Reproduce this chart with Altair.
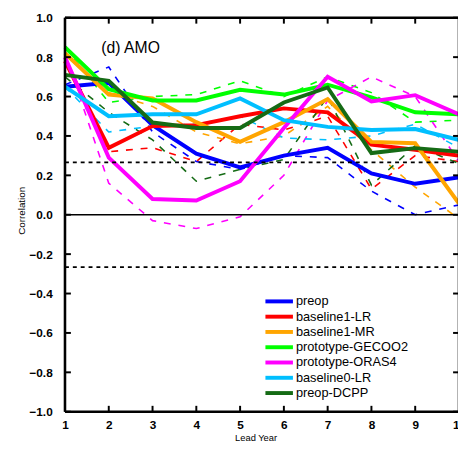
import altair as alt
import pandas as pd

years = [1, 2, 3, 4, 5, 6, 7, 8, 9, 10]

series_names = ["preop", "baseline1-LR", "baseline1-MR", "prototype-GECOO2",
                "prototype-ORAS4", "baseline0-LR", "preop-DCPP"]
series_colors = ["#0000FF", "#FF0000", "#FFA500", "#00FF00",
                 "#FF00FF", "#00BFFF", "#156B15"]

# solid (thick) lines
preop = [0.65, 0.67, 0.455, 0.31, 0.24, 0.30, 0.34, 0.21, 0.157, 0.19]
baseline1_lr = [0.78, 0.34, 0.45, 0.455, 0.50, 0.54, 0.52, 0.356, 0.33, 0.30]
baseline1_mr = [0.82, 0.61, 0.59, 0.47, 0.37, 0.47, 0.587, 0.37, 0.363, 0.057]
gecoo2 = [0.85, 0.637, 0.58, 0.58, 0.634, 0.61, 0.66, 0.596, 0.52, 0.51]
oras4 = [0.80, 0.29, 0.08, 0.072, 0.17, 0.44, 0.70, 0.575, 0.607, 0.51]
baseline0_lr = [0.65, 0.50, 0.51, 0.51, 0.59, 0.48, 0.446, 0.43, 0.435, 0.38]
preop_dcpp = [0.71, 0.68, 0.468, 0.44, 0.44, 0.57, 0.646, 0.313, 0.338, 0.32]

# dashed (thin) lines
preop_d = [0.66, 0.75, 0.42, 0.27, 0.23, 0.30, 0.29, 0.12, 0.0, 0.05]
baseline1_lr_d = [0.78, 0.32, 0.34, 0.27, 0.46, 0.43, 0.50, 0.13, 0.30, 0.27]
baseline1_mr_d = [0.82, 0.62, 0.55, 0.42, 0.36, 0.40, 0.55, 0.33, 0.14, -0.02]
gecoo2_d = [0.85, 0.57, 0.60, 0.61, 0.68, 0.60, 0.70, 0.62, 0.47, 0.48]
oras4_d = [0.82, 0.16, -0.03, -0.07, -0.01, 0.20, 0.58, 0.70, 0.60, 0.27]
baseline0_lr_d = [0.65, 0.42, 0.45, 0.46, 0.50, 0.39, 0.38, 0.40, 0.46, 0.34]
preop_dcpp_d = [0.70, 0.52, 0.38, 0.17, 0.23, 0.28, 0.60, 0.15, 0.35, 0.26]

solid_vals = [preop, baseline1_lr, baseline1_mr, gecoo2, oras4, baseline0_lr, preop_dcpp]
dashed_vals = [preop_d, baseline1_lr_d, baseline1_mr_d, gecoo2_d, oras4_d,
               baseline0_lr_d, preop_dcpp_d]

y_ticks = [-1.0, -0.8, -0.6, -0.4, -0.2, 0.0, 0.2, 0.4, 0.6, 0.8, 1.0]
sig_level = [0.266, -0.266]
zero_level = [0.0]

rows = []
for i, name in enumerate(series_names):
    for yr, v in zip(years, solid_vals[i]):
        rows.append({"year": yr, "value": v, "series": name, "order": i, "kind": "solid"})
    for yr, v in zip(years, dashed_vals[i]):
        rows.append({"year": yr, "value": v, "series": name, "order": i, "kind": "dashed"})
df = pd.DataFrame(rows)

W, H = 400, 401
XR = 401
FONT = "Liberation Sans"

xscale = alt.Scale(domain=[1, 10], range=[0, XR], nice=False, zero=False)
yscale = alt.Scale(domain=[-1, 1], nice=False, zero=False)
color = alt.Color("series:N", scale=alt.Scale(domain=series_names, range=series_colors),
                  legend=None)

x_axis = alt.Axis(values=years, format="d", grid=False, ticks=False, domain=False,
                  labelFont=FONT, labelFontSize=12, labelFontWeight="bold",
                  labelColor="black", labelPadding=8, labelFlush=False,
                  title="Lead Year", titleFont=FONT, titleFontSize=9.5,
                  titleFontWeight="normal", titleColor="black",
                  titleX=194, titleY=29, titleBaseline="alphabetic", titleAlign="center")
y_axis = alt.Axis(values=y_ticks, format=".1f", grid=False, ticks=False, domain=False,
                  labelFont=FONT, labelFontSize=12, labelFontWeight="bold",
                  labelColor="black", labelPadding=13, labelFlush=False,
                  title="Correlation", titleFont=FONT, titleFontSize=10,
                  titleFontWeight="normal", titleColor="black",
                  titleX=-44, titleY=196, titleAngle=270, titleAlign="center",
                  titleBaseline="middle")

base = alt.Chart(df)

dashed = base.transform_filter(alt.datum.kind == "dashed").mark_line(
    strokeWidth=1.6, strokeDash=[7, 8]
).encode(
    x=alt.X("year:Q", scale=xscale, axis=x_axis),
    y=alt.Y("value:Q", scale=yscale, axis=y_axis),
    color=color,
    detail="series:N",
    order="year:Q",
)

solid = base.transform_filter(alt.datum.kind == "solid").mark_line(
    strokeWidth=4
).encode(
    x=alt.X("year:Q", scale=xscale),
    y=alt.Y("value:Q", scale=yscale),
    color=color,
    detail="series:N",
    order="year:Q",
)

zero_df = pd.DataFrame({"v": zero_level})
zero_rule = alt.Chart(zero_df).mark_rule(color="black", strokeWidth=1.6).encode(
    y=alt.Y("v:Q", scale=yscale), x=alt.value(0), x2=alt.value(XR))

sig_df = pd.DataFrame({"v": sig_level})
sig_rule = alt.Chart(sig_df).mark_rule(color="black", strokeWidth=1.8,
                                       strokeDash=[4, 4]).encode(
    y=alt.Y("v:Q", scale=yscale), x=alt.value(0), x2=alt.value(XR))

ytick_df = pd.DataFrame({"v": y_ticks})
left_ticks = alt.Chart(ytick_df).mark_rule(color="black", strokeWidth=2).encode(
    y=alt.Y("v:Q", scale=yscale), x=alt.value(0), x2=alt.value(6))
right_ticks = alt.Chart(ytick_df).mark_rule(color="black", strokeWidth=2).encode(
    y=alt.Y("v:Q", scale=yscale), x=alt.value(XR - 6), x2=alt.value(XR))

xtick_df = pd.DataFrame({"yr": years})
top_ticks = alt.Chart(xtick_df).mark_rule(color="black", strokeWidth=2).encode(
    x=alt.X("yr:Q", scale=xscale), y=alt.value(0), y2=alt.value(6))
bottom_ticks = alt.Chart(xtick_df).mark_rule(color="black", strokeWidth=2).encode(
    x=alt.X("yr:Q", scale=xscale), y=alt.value(H - 6), y2=alt.value(H))

frame_df = pd.DataFrame({"k": [0]})
frame_left = alt.Chart(frame_df).mark_rule(color="black", strokeWidth=2.6).encode(
    x=alt.value(0), y=alt.value(0), y2=alt.value(H))
frame_top = alt.Chart(frame_df).mark_rule(color="black", strokeWidth=2.6).encode(
    x=alt.value(0), x2=alt.value(XR), y=alt.value(0))
frame_bottom = alt.Chart(frame_df).mark_rule(color="black", strokeWidth=2.6).encode(
    x=alt.value(0), x2=alt.value(XR), y=alt.value(H))
frame_right = alt.Chart(frame_df).mark_rule(color="black", strokeWidth=2.6).encode(
    x=alt.value(XR), y=alt.value(0), y2=alt.value(H))

title_df = pd.DataFrame({"t": ["(d) AMO"]})
panel_title = alt.Chart(title_df).mark_text(
    font=FONT, fontSize=16, align="left", baseline="alphabetic", color="black"
).encode(text="t:N", x=alt.value(37), y=alt.value(36))

legend_layers = []
for i, (name, col) in enumerate(zip(series_names, series_colors)):
    ly = 288.7 + i * 15.55
    ldf = pd.DataFrame({"label": [name]})
    legend_layers.append(
        alt.Chart(ldf).mark_rule(color=col, strokeWidth=4).encode(
            x=alt.value(204), x2=alt.value(232), y=alt.value(ly)))
    legend_layers.append(
        alt.Chart(ldf).mark_text(font=FONT, fontSize=13, align="left",
                                 baseline="middle", color="black").encode(
            text="label:N", x=alt.value(235), y=alt.value(ly)))

chart = alt.layer(
    dashed, solid, zero_rule, sig_rule,
    left_ticks, right_ticks, top_ticks, bottom_ticks,
    frame_left, frame_top, frame_bottom, frame_right,
    panel_title, *legend_layers
).properties(
    width=W, height=H,
    autosize=alt.AutoSizeParams(type="none"),
    padding={"left": 58, "top": 6, "right": 0, "bottom": 33},
).configure_view(stroke=None).configure(font=FONT)

chart.save("out.html", embed_options={"renderer": "svg", "actions": False})
